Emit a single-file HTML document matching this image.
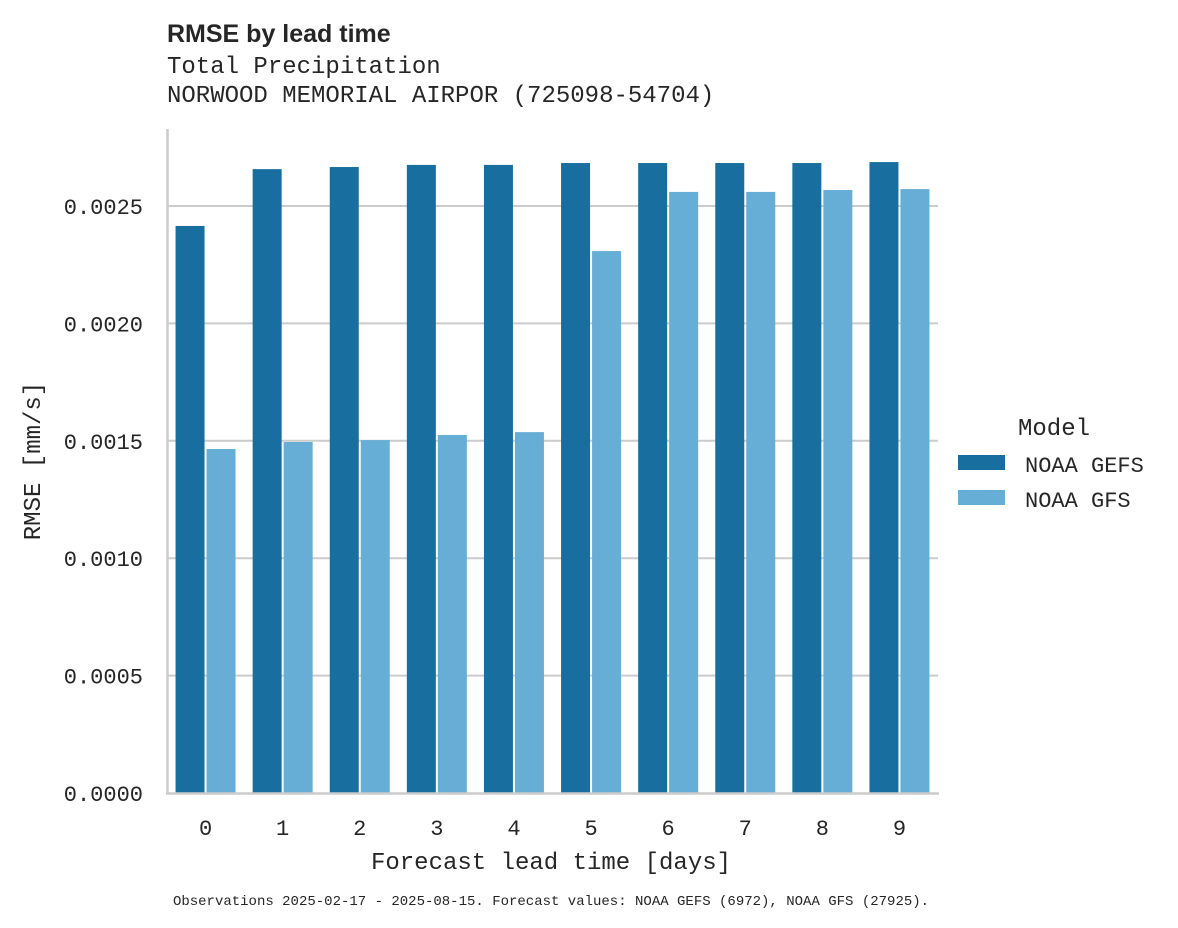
<!DOCTYPE html>
<html><head><meta charset="utf-8">
<style>
html,body{margin:0;padding:0;background:#fff;}
svg{display:block;font-family:"Liberation Mono",monospace;}
</style></head>
<body>
<svg id="chart" width="1178" height="928" viewBox="0 0 1178 928">
  <text x="167" y="42" font-family="Liberation Sans, sans-serif" font-weight="bold" font-size="25" fill="#262626">RMSE by lead time</text>
  <text x="167" y="73" font-size="24" fill="#262626">Total Precipitation</text>
  <text x="167" y="102" font-size="24" fill="#262626">NORWOOD MEMORIAL AIRPOR (725098-54704)</text>
  <g id="grid"></g>
  <g id="bars"></g>
  <line x1="167.5" y1="129" x2="167.5" y2="794" stroke="#cccccc" stroke-width="2.5"/>
  <line x1="166" y1="793.5" x2="939" y2="793.5" stroke="#cccccc" stroke-width="2.5"/>
  <g id="yticks"></g>
  <g id="xticks"></g>
  <text transform="translate(40,461) rotate(-90)" text-anchor="middle" font-size="24" fill="#262626">RMSE [mm/s]</text>
  <text x="551" y="869" text-anchor="middle" font-size="24" fill="#262626">Forecast lead time [days]</text>
  <g>
    <text x="1018" y="435" font-size="24" fill="#262626">Model</text>
    <rect x="958" y="455" width="47" height="15" fill="#186f9f"/>
    <text x="1025" y="472" font-size="22" fill="#262626">NOAA GEFS</text>
    <rect x="958" y="490" width="47" height="15" fill="#67aed6"/>
    <text x="1025" y="507" font-size="22" fill="#262626">NOAA GFS</text>
  </g>
  <text x="551" y="905" text-anchor="middle" font-size="14" fill="#262626">Observations 2025-02-17 - 2025-08-15. Forecast values: NOAA GEFS (6972), NOAA GFS (27925).</text>
</svg>
<script>
const categories = ["0","1","2","3","4","5","6","7","8","9"];
const gefsValues = [0.002415,0.002657,0.002666,0.002675,0.002675,0.002683,0.002683,0.002683,0.002683,0.002687];
const gfsValues = [0.001465,0.001495,0.001503,0.001525,0.001537,0.002308,0.00256,0.00256,0.002568,0.002572];
const yTicks = [0,0.0005,0.001,0.0015,0.002,0.0025];
const yTickLabels = ["0.0000","0.0005","0.0010","0.0015","0.0020","0.0025"];

const NS = "http://www.w3.org/2000/svg";
const y0 = 793, yPerUnit = 117.4/0.0005;
function yScale(v){ return y0 - v*yPerUnit; }
const xLeft = 167, band = 77.1;
function xCenter(i){ return xLeft + band*(i+0.5); }

const grid = document.getElementById('grid');
const yt = document.getElementById('yticks');
yTicks.forEach((t,i)=>{
  const y = yScale(t);
  if (t>0){
    const l = document.createElementNS(NS,'line');
    l.setAttribute('x1',168); l.setAttribute('x2',938);
    l.setAttribute('y1',y); l.setAttribute('y2',y);
    l.setAttribute('stroke','#cccccc'); l.setAttribute('stroke-width','2');
    
    
    grid.appendChild(l);
  }
  const tx = document.createElementNS(NS,'text');
  tx.setAttribute('x',143); tx.setAttribute('y',y+8);
  tx.setAttribute('text-anchor','end'); tx.setAttribute('font-size','22'); tx.setAttribute('fill','#262626');
  tx.textContent = yTickLabels[i];
  
  
  yt.appendChild(tx);
});

const bars = document.getElementById('bars');
const xt = document.getElementById('xticks');
const bw = 29;
categories.forEach((c,i)=>{
  const cx = xCenter(i);
  [[gefsValues[i],'#186f9f',cx-bw-1,'bar-gefs'],[gfsValues[i],'#67aed6',cx+1,'bar-gfs']].forEach(([v,col,x,n])=>{
    const r = document.createElementNS(NS,'rect');
    r.setAttribute('x',x); r.setAttribute('width',bw);
    r.setAttribute('y',yScale(v)); r.setAttribute('height',y0-yScale(v));
    r.setAttribute('fill',col);
    
    
    bars.appendChild(r);
  });
  const tx = document.createElementNS(NS,'text');
  tx.setAttribute('x',cx); tx.setAttribute('y',835);
  tx.setAttribute('text-anchor','middle'); tx.setAttribute('font-size','22'); tx.setAttribute('fill','#262626');
  tx.textContent = c;
  
  
  xt.appendChild(tx);
});
</script>
</body></html>
